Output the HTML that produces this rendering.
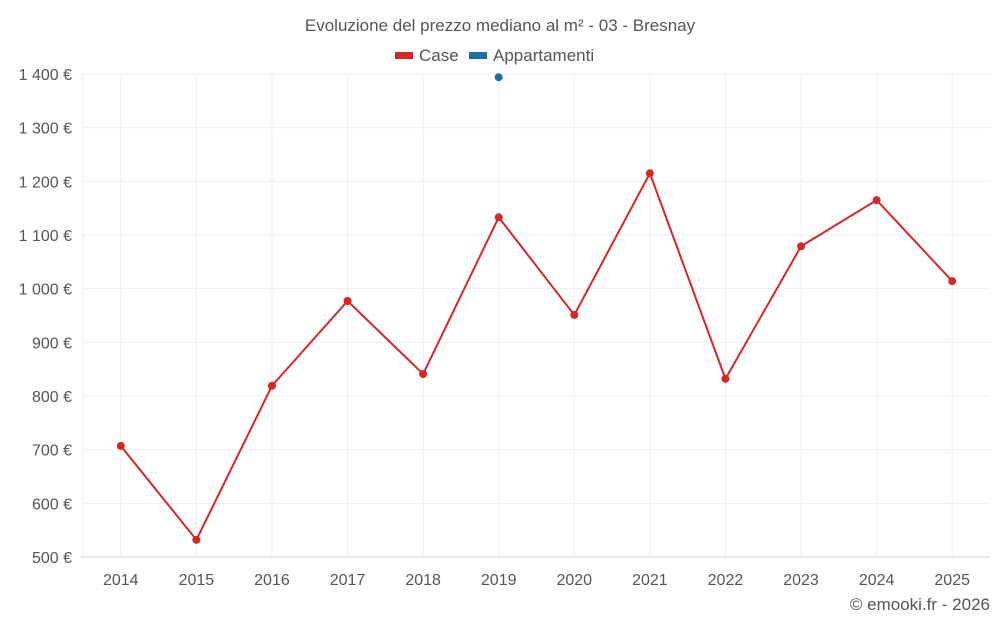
<!DOCTYPE html>
<html><head><meta charset="utf-8"><style>
body{margin:0;background:#fff;font-family:"Liberation Sans",sans-serif}
svg text{font-family:"Liberation Sans",sans-serif}
</style></head><body>
<svg id="c" width="1000" height="625">
<text x="500" y="31" text-anchor="middle" font-size="17" fill="#555">Evoluzione del prezzo mediano al m² - 03 - Bresnay</text>
<g><rect x="395" y="52" width="18" height="7" fill="#d62728"/><text x="419" y="61" font-size="17" fill="#555">Case</text></g>
<g><rect x="469" y="52" width="18" height="7" fill="#1f6fa5"/><text x="493" y="61" font-size="17" fill="#555">Appartamenti</text></g>
<g id="grid"></g><g id="axes"></g><g id="marks"></g>
<text x="990" y="610" text-anchor="end" font-size="17" fill="#555">© emooki.fr - 2026</text>
</svg>
<script>
const years=["2014","2015","2016","2017","2018","2019","2020","2021","2022","2023","2024","2025"];
const caseValues=[707,532,819,977,841,1133,951,1215,832,1079,1165,1014];
const apptValues=[null,null,null,null,null,1394,null,null,null,null,null,null];
const yTicks=[500,600,700,800,900,1000,1100,1200,1300,1400];
const L=83,R=990,T=74,B=557,ymin=500,ymax=1400;
const NS="http://www.w3.org/2000/svg";
const bw=(R-L)/years.length;
const x=i=>L+bw*(i+0.5);
const y=v=>B-(v-ymin)/(ymax-ymin)*(B-T);
function mk(t,a,p){const e=document.createElementNS(NS,t);for(const k in a)e.setAttribute(k,a[k]);p.appendChild(e);return e;}
const g=document.getElementById('grid'),ax=document.getElementById('axes'),m=document.getElementById('marks');
const lg=mk('line',{x1:L,x2:L,y1:T,y2:B,stroke:'#eee'},g);


years.forEach((yr,i)=>{const l=mk('line',{x1:x(i),x2:x(i),y1:T,y2:B,stroke:'#eee'},g);

});
yTicks.forEach(v=>{
const l=mk('line',{x1:v===ymin?L-3:L,x2:R,y1:y(v),y2:y(v),stroke:v===ymin?'#ccc':'#eee'},g);


const t=mk('text',{x:72,y:y(v)+6,'text-anchor':'end','font-size':'16',fill:'#555'},ax);
t.textContent=v.toLocaleString('fr-FR').replace(/\s/g,' ')+' €';


});
years.forEach((yr,i)=>{const t=mk('text',{x:x(i),y:585,'text-anchor':'middle','font-size':'16',fill:'#555'},ax);t.textContent=yr;

});
const p=mk('polyline',{points:caseValues.map((v,i)=>x(i)+','+y(v)).join(' '),fill:'none',stroke:'#d62728','stroke-width':2},m);


caseValues.forEach((v,i)=>{const c=mk('circle',{cx:x(i),cy:y(v),r:4,fill:'#d62728'},m);

});
apptValues.forEach((v,i)=>{if(v==null)return;const c=mk('circle',{cx:x(i),cy:y(v),r:4,fill:'#1f6fa5'},m);

});
</script>
</body></html>
